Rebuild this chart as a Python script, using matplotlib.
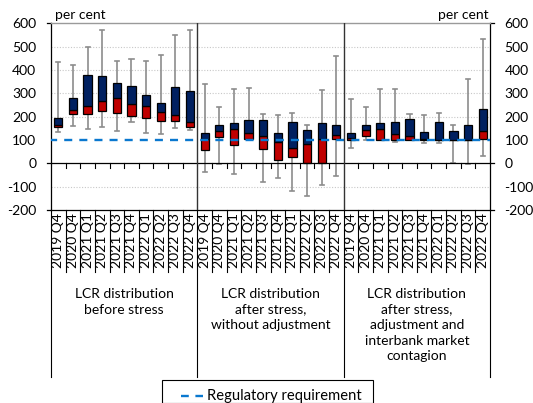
import matplotlib
matplotlib.use("Agg")
import matplotlib.pyplot as plt
import matplotlib.transforms as mtransforms
from matplotlib.patches import Rectangle
from matplotlib.lines import Line2D

plt.rcParams['font.family'] = ['Lato', 'DejaVu Sans']
plt.rcParams['axes.unicode_minus'] = False

quarters = ["2019 Q4", "2020 Q4", "2021 Q1", "2021 Q2", "2021 Q3",
            "2021 Q4", "2022 Q1", "2022 Q2", "2022 Q3", "2022 Q4"]
groups = ["LCR distribution\nbefore stress",
          "LCR distribution\nafter stress,\nwithout adjustment",
          "LCR distribution\nafter stress,\nadjustment and\ninterbank market\ncontagion"]

# LCR distribution before stress
before_min = [134, 159, 146, 154, 140, 179, 131, 124, 151, 141]
before_q1 = [155, 211, 210, 223, 217, 201, 194, 181, 181, 157]
before_med = [166, 230, 246, 266, 279, 253, 246, 221, 207, 177]
before_q3 = [195, 281, 380, 373, 343, 331, 293, 260, 327, 309]
before_max = [434, 421, 497, 570, 440, 449, 440, 466, 550, 570]

# LCR distribution after stress, without adjustment
stress_min = [-36, -3, -47, 101, -80, -64, -117, -141, -94, -56]
stress_q1 = [59, 111, 80, 104, 60, 13, 29, 1, 1, 103]
stress_med = [106, 140, 149, 131, 119, 90, 67, 81, 103, 123]
stress_q3 = [131, 163, 174, 184, 187, 131, 176, 141, 173, 163]
stress_max = [341, 243, 319, 324, 210, 206, 217, 163, 314, 459]

# LCR distribution after stress, adjustment and interbank contagion
adj_min = [67, 100, 100, 93, 100, 89, 89, 0, -3, 30]
adj_q1 = [100, 117, 100, 100, 100, 100, 100, 100, 100, 106]
adj_med = [109, 141, 149, 124, 117, 104, 102, 101, 101, 137]
adj_q3 = [129, 164, 174, 177, 189, 133, 176, 140, 164, 231]
adj_max = [277, 243, 320, 317, 211, 206, 214, 163, 361, 531]

requirement = 100

mins = before_min + stress_min + adj_min
q1s = before_q1 + stress_q1 + adj_q1
meds = before_med + stress_med + adj_med
q3s = before_q3 + stress_q3 + adj_q3
maxs = before_max + stress_max + adj_max
n = len(mins)
xs = list(range(n))

NAVY = "#002060"
RED = "#C00000"
BLUE = "#0a78cf"
GRID = "#c8c8c8"
W, H = 533, 403

fig = plt.figure(figsize=(W / 100, H / 100), dpi=100)
ax = fig.add_axes([51 / W, 1 - 210 / H, 439 / W, 186.7 / H])
ax.set_xlim(-0.5, n - 0.5)
ax.set_ylim(-200, 600)

# dotted horizontal grid
for v in [500, 400, 300, 200, -100]:
    ax.axhline(v, color=GRID, lw=0.8, ls=(0, (1, 1.5)), zorder=0)

# whiskers (high-low lines) with caps
bw = 0.56
cap = 0.14
for x, lo, hi in zip(xs, mins, maxs):
    ax.plot([x, x], [lo, hi], color="#8c8c8c", lw=1.2, zorder=1, solid_capstyle="butt")
    ax.plot([x - cap, x + cap], [hi, hi], color="#8c8c8c", lw=1.2, zorder=1)
    ax.plot([x - cap, x + cap], [lo, lo], color="#8c8c8c", lw=1.2, zorder=1)

# boxes: lower part red (Q1-median), upper part navy (median-Q3)
ax.bar(xs, [m - a for a, m in zip(q1s, meds)], bottom=q1s, width=bw,
       color=RED, edgecolor="black", linewidth=0.9, zorder=2)
ax.bar(xs, [b - m for m, b in zip(meds, q3s)], bottom=meds, width=bw,
       color=NAVY, edgecolor="black", linewidth=0.9, zorder=2)

# regulatory requirement
ax.axhline(requirement, color=BLUE, lw=1.7, ls=(0.8, (3.4, 3.0)), zorder=3)

# zero line with category ticks
ax.axhline(0, color="black", lw=0.9, zorder=3)
for b in range(1, n):
    if b % 10 == 0:
        continue
    ax.plot([b - 0.5, b - 0.5], [0, -21], color="black", lw=0.8, zorder=3)

# group dividers inside the plot
for b in [9.5, 19.5]:
    ax.axvline(b, color="#333333", lw=1.0, zorder=3)

for side in ["left", "right", "bottom"]:
    ax.spines[side].set_color("black")
    ax.spines[side].set_linewidth(0.9)
ax.spines["top"].set_color("#9a9a9a")
ax.spines["top"].set_linewidth(1.0)

ax.set_yticks(range(-200, 601, 100))
ax.tick_params(axis="y", length=0, pad=10.5, labelsize=10, labelright=True,
               right=False)
ax.set_xticks([])

# short outward marks at the frame and zero lines
ytrans = mtransforms.blended_transform_factory(ax.transAxes, ax.transData)
ext = 4 / 439
for v in [600, 0, -200]:
    for x0, x1 in [(-ext, 0), (1, 1 + ext)]:
        ax.plot([x0, x1], [v, v], color="black", lw=0.9, transform=ytrans,
                clip_on=False)

# multi-level category axis below the plot
trans = mtransforms.blended_transform_factory(ax.transData, ax.transAxes)
for b in range(n + 1):
    x = b - 0.5
    y_end = -0.894 if b % 10 == 0 else -0.332
    ax.plot([x, x], [0, y_end], color="black", lw=0.8, transform=trans,
            clip_on=False)
for i in range(n):
    ax.text(i, -0.016, quarters[i % 10], rotation=90, ha="center", va="top",
            fontsize=10, transform=trans)
for g, label in enumerate(groups):
    ax.text(g * 10 + 4.5, -0.418, label, ha="center", va="top", fontsize=10,
            linespacing=1.36, transform=trans)

fig.text(55 / W, 1 - 15 / H, "per cent", ha="left", va="center", fontsize=10)
fig.text(489 / W, 1 - 15 / H, "per cent", ha="right", va="center", fontsize=10)

# legend box
fig.patches.append(Rectangle((161.7 / W, 0), (372.7 - 161.7) / W, (H - 384.3) / H + 0.01,
                             transform=fig.transFigure, fill=False,
                             edgecolor="black", linewidth=0.8))
fig.lines.append(Line2D([181 / W, 203 / W], [1 - 396 / H, 1 - 396 / H],
                        transform=fig.transFigure, color=BLUE, lw=1.7,
                        ls=(0, (3.3, 2.8))))
fig.text(207 / W, 1 - 396 / H, "Regulatory requirement", ha="left",
         va="center", fontsize=10.6)

fig.savefig("out.png", dpi=100)
